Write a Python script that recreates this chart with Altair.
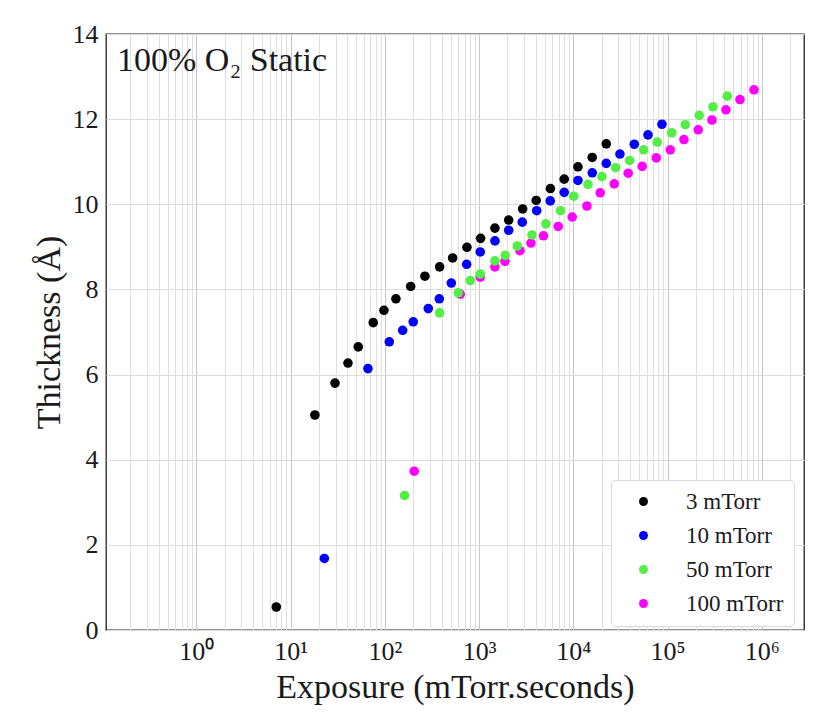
import altair as alt
import pandas as pd

# ---------------- data ----------------
series_names = ["3 mTorr", "10 mTorr", "50 mTorr", "100 mTorr"]
series_colors = ["#000000", "#0000ff", "#55ee44", "#ff00ff"]

x_3 = [7.05, 18.1, 29.6, 40.6, 52.2, 75.3, 97.8, 131, 188, 266, 381, 524, 743,
       1038, 1472, 2060, 2898, 4036, 5715, 8000, 11190, 15850, 22340]
y_3 = [0.54, 5.05, 5.80, 6.27, 6.65, 7.22, 7.51, 7.78, 8.07, 8.31, 8.53, 8.74, 8.99,
       9.20, 9.44, 9.63, 9.89, 10.09, 10.37, 10.59, 10.88, 11.10, 11.42]

x_10 = [22.8, 66.2, 111.4, 154.5, 200, 289, 378, 507, 738, 1029, 1473, 2060, 2871,
        4083, 5688, 8000, 11190, 15870, 22340, 31200, 44300, 61960, 87100]
y_10 = [1.68, 6.14, 6.77, 7.04, 7.24, 7.55, 7.78, 8.15, 8.59, 8.88, 9.14, 9.39, 9.58,
        9.85, 10.08, 10.28, 10.56, 10.74, 10.96, 11.18, 11.41, 11.63, 11.88]

x_50 = [162, 381, 601, 806, 1028, 1472, 1893, 2539, 3637, 5119, 7301, 10100, 14290,
        20100, 28100, 39550, 55700, 77650, 110400, 153900, 216700, 302900, 429500]
y_50 = [3.16, 7.45, 7.92, 8.21, 8.36, 8.67, 8.80, 9.02, 9.28, 9.54, 9.85, 10.19, 10.47,
        10.65, 10.86, 11.03, 11.28, 11.46, 11.68, 11.87, 12.09, 12.29, 12.54]

x_100 = [205, 631, 1028, 1472, 1880, 2712, 3548, 4817, 6898, 9730, 13930, 19290, 27160,
         38200, 53800, 75800, 106700, 149000, 211400, 295800, 415900, 586100, 824500]
y_100 = [3.73, 7.89, 8.29, 8.53, 8.66, 8.91, 9.09, 9.26, 9.48, 9.70, 9.96, 10.27, 10.48,
         10.73, 10.89, 11.09, 11.28, 11.52, 11.75, 11.98, 12.22, 12.46, 12.69]

y_ticks = [0, 2, 4, 6, 8, 10, 12, 14]
x_domain = [0.11, 2.8e6]
y_domain = [0, 14]
panel_title = "100% O\u2082 Static"
x_title = "Exposure (mTorr.seconds)"
y_title = "Thickness (\u00c5)"

# draw order: last series first so the earlier ones sit on top (as in the reference)
rows = []
for name, xs, ys in reversed(list(zip(series_names, [x_3, x_10, x_50, x_100],
                                      [y_3, y_10, y_50, y_100]))):
    for xv, yv in zip(xs, ys):
        rows.append({"exposure": xv, "thickness": yv, "pressure": name})
df = pd.DataFrame(rows)

x_grid = [m * 10.0 ** k for k in range(-1, 7) for m in range(1, 10)
          if x_domain[0] <= m * 10.0 ** k <= x_domain[1]]

is_pow10 = "abs(log(datum.value)/LN10 - round(log(datum.value)/LN10)) < 0.001"
sup = "['\u2070','\u00b9','\u00b2','\u00b3','\u2074','\u2075','\u2076']"
label_expr = f"({is_pow10}) ? '10' + {sup}[round(log(datum.value)/LN10)] : ''"

FONT = "Liberation Serif"
TXT = "#1a1a1a"

points = alt.Chart(df).mark_circle(size=92, opacity=1).encode(
    x=alt.X("exposure:Q",
            scale=alt.Scale(type="log", domain=x_domain, nice=False),
            axis=alt.Axis(values=x_grid, labelExpr=label_expr, labelOverlap=False,
                          labelFlush=False, ticks=False, domain=False,
                          labelFontSize=26, labelPadding=8, labelColor=TXT,
                          title=x_title, titleFontSize=34, titleFontWeight="normal",
                          titleColor=TXT, titlePadding=6,
                          gridColor={"condition": {"test": is_pow10, "value": "#c6c6c6"},
                                     "value": "#e0e0e0"},
                          gridWidth=1)),
    y=alt.Y("thickness:Q",
            scale=alt.Scale(domain=y_domain, nice=False),
            axis=alt.Axis(values=y_ticks, ticks=False, domain=False,
                          labelFontSize=26, labelPadding=8, labelColor=TXT,
                          title=y_title, titleFontSize=34, titleFontWeight="normal",
                          titleColor=TXT, titlePadding=6,
                          gridColor="#dcdcdc", gridWidth=1)),
    color=alt.Color("pressure:N",
                    scale=alt.Scale(domain=series_names, range=series_colors),
                    legend=alt.Legend(orient="none", legendX=505, legendY=446,
                                      title=None, labelFontSize=23, labelColor=TXT,
                                      symbolType="circle", symbolSize=80,
                                      symbolStrokeWidth=0, padding=10,
                                      symbolOffset=11, labelOffset=31, rowPadding=10,
                                      strokeColor="#dadada", fillColor="white",
                                      cornerRadius=4)),
)

label = alt.Chart(pd.DataFrame({"t": [panel_title]})).mark_text(
    align="left", baseline="alphabetic", fontSize=34, font=FONT, color=TXT
).encode(text="t:N", x=alt.value(11), y=alt.value(37))

chart = alt.layer(points, label).properties(
    width=698, height=596,
    padding={"left": 98, "top": 26, "right": 18, "bottom": 88},
    autosize=alt.AutoSizeParams(type="none"),
).configure(font=FONT).configure_view(
    stroke="#222222", strokeWidth=1.3
)

chart.save("out.html", embed_options={"renderer": "svg", "actions": False})
